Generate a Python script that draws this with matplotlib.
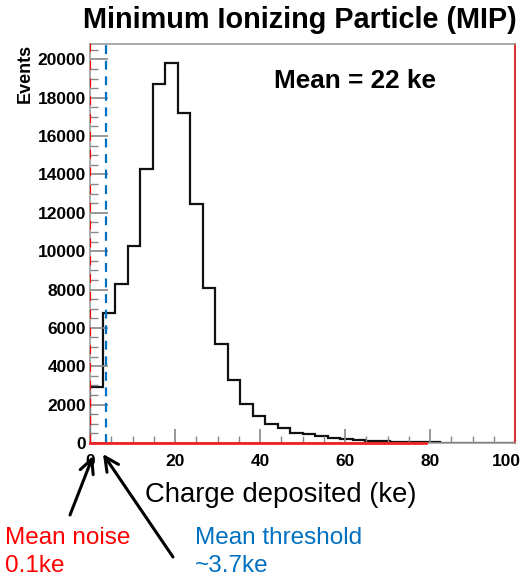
import numpy as np
import matplotlib
matplotlib.use("Agg")
import matplotlib.pyplot as plt
from matplotlib.patches import FancyArrowPatch
from matplotlib.ticker import MultipleLocator, FuncFormatter

plt.rcParams["font.family"] = ["Liberation Sans", "DejaVu Sans"]

# histogram contents (34 bins over 0-100 ke)
counts = [2900, 6800, 8300, 10260, 14300, 18700, 19800, 17200, 12480, 8060,
          5140, 3280, 2030, 1420, 990, 765, 540, 470, 365, 280,
          190, 140, 105, 80, 60, 50, 40, 30, 25, 20,
          15, 10, 8, 5]
x_range = (0, 100)
y_max = 20800

mean_noise = 0.1
mean_threshold = 3.7

title = "Minimum Ionizing Particle (MIP)"
mean_label = "Mean = 22 ke"
xlabel = "Charge deposited (ke)"
ylabel = "Events"
noise_label = "Mean noise\n0.1ke"
thr_label = "Mean threshold\n~3.7ke"

W, H = 525, 587
fig = plt.figure(figsize=(W / 100, H / 100), dpi=100)
ax = fig.add_axes([90 / W, 1 - 443 / H, 425 / W, 399 / H])

edges = np.linspace(x_range[0], x_range[1], len(counts) + 1)
ax.stairs(counts, edges, color="#111111", linewidth=1.6, baseline=None)
ax.plot([edges[0], edges[0]], [0, counts[0]], color="#111111", lw=1.6)

ax.set_xlim(*x_range)
ax.set_ylim(0, y_max)

# frame
gray = "#999999"
for s in ["top", "left", "bottom"]:
    ax.spines[s].set_color(gray)
    ax.spines[s].set_linewidth(1.2)
ax.spines["right"].set_color("#dd3333")
ax.spines["right"].set_linewidth(1.5)
ax.plot([0, 79], [0, 0], color="#ee2222", lw=2, clip_on=False, zorder=5)

# noise and threshold lines
ax.axvline(mean_noise, color="#ff0000", lw=1.6, ls=(0, (4, 4)), zorder=4)
ax.axvline(mean_threshold, color="#0070c0", lw=1.6, ls=(0, (4, 3)), zorder=4)

# ticks
ax.xaxis.set_major_locator(MultipleLocator(20))
ax.xaxis.set_minor_locator(MultipleLocator(5))
ax.yaxis.set_major_locator(MultipleLocator(2000))
ax.yaxis.set_minor_locator(MultipleLocator(500))
# the last x label is drawn separately so it stays inside the picture
ax.xaxis.set_major_formatter(FuncFormatter(
    lambda v, p: "" if v >= x_range[1] else f"{v:.0f}"))
ax.tick_params(axis="both", which="both", direction="in", color="#888888",
               top=False, right=False)
ax.tick_params(axis="y", which="major", length=13, width=1.2, pad=3)
ax.tick_params(axis="y", which="minor", length=6, width=1.0)
ax.tick_params(axis="x", which="major", length=10, width=1.2, pad=8)
ax.tick_params(axis="x", which="minor", length=5, width=1.0)
for lab in ax.get_xticklabels() + ax.get_yticklabels():
    lab.set_fontweight("bold")
    lab.set_fontsize(12.5)
ax.annotate(f"{x_range[1]}", xy=(x_range[1], 0), xytext=(-6, -8),
            textcoords="offset points", ha="center", va="top",
            fontsize=12.5, fontweight="bold", annotation_clip=False)

fig.text(25 / W, 1 - 44 / H, ylabel, rotation=90, ha="center", va="top",
         fontsize=13, fontweight="bold")
fig.text(300 / W, 1 - 20 / H, title, ha="center", va="center",
         fontsize=20.8, fontweight="bold")
fig.text(355 / W, 1 - 81 / H, mean_label, ha="center", va="center",
         fontsize=18.8, fontweight="bold")
fig.text(281 / W, 1 - 495 / H, xlabel, ha="center", va="center", fontsize=19.8)

fig.text(5 / W, 1 - 527 / H, noise_label, ha="left", va="top", fontsize=17.5,
         color="#ff0000", linespacing=1.35)
fig.text(195 / W, 1 - 527 / H, thr_label, ha="left", va="top", fontsize=17.5,
         color="#0070c0", linespacing=1.35)

arrow = dict(arrowstyle="->", color="black", lw=2.2, mutation_scale=25,
             shrinkA=0, shrinkB=0)
fig.add_artist(FancyArrowPatch((70 / W, 1 - 515 / H), (93 / W, 1 - 456 / H),
                               transform=fig.transFigure, **arrow))
fig.add_artist(FancyArrowPatch((173 / W, 1 - 557 / H), (103 / W, 1 - 454 / H),
                               transform=fig.transFigure, **arrow))

fig.savefig("out.png", dpi=100)
